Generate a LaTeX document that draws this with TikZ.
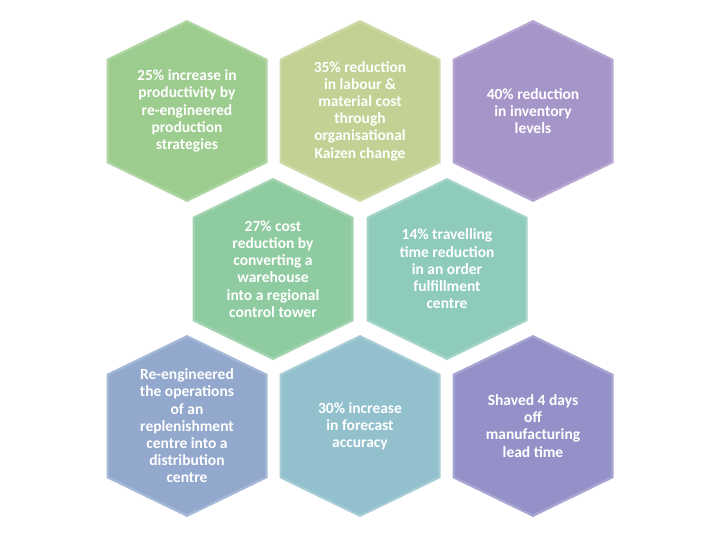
\documentclass[tikz,border=0pt]{standalone}
\usepackage{fontspec}
\usepackage{tikz}

\newfontfamily\hexfont{Carlito}

\definecolor{prodgreen}{RGB}{157,204,143}
\definecolor{labourolive}{RGB}{194,210,148}
\definecolor{stocklilac}{RGB}{166,149,201}
\definecolor{housegreen}{RGB}{143,203,160}
\definecolor{travelteal}{RGB}{143,203,188}
\definecolor{replenblue}{RGB}{146,168,205}
\definecolor{forecastblue}{RGB}{146,192,205}
\definecolor{leadpurple}{RGB}{148,145,200}

% #1 name, #2 centre, #3 colour, #4 text
\newcommand{\hexcell}[4]{%
  \fill[#3!82!white, shift={(#2)}] (-80.5,-52) -- (0,-91) -- (80.5,-52) -- (80.5,52) -- (0,91) -- (-80.5,52) -- cycle;
  \fill[#3, shift={(#2)}, scale=0.97] (-80.5,-52) -- (0,-91) -- (80.5,-52) -- (80.5,52) -- (0,91) -- (-80.5,52) -- cycle;
  \node[hextext] (#1) at (#2) {#4};
}

\begin{document}
\begin{tikzpicture}[x=1pt, y=-1pt,
    hextext/.style={text=white, align=center, inner sep=0pt, font=\hexfont\bfseries\fontsize{15.5}{17.2}\selectfont}]
    \useasboundingbox (0,0) rectangle (720,539);

    % First row
    \hexcell{hexProd}{187,111}{prodgreen}{25\% increase in\\productivity by\\re-engineered\\production\\strategies}
    \hexcell{hexLabour}{360,111}{labourolive}{35\% reduction\\in labour \&\\material cost\\through\\organisational\\Kaizen change}
    \hexcell{hexStock}{533,111}{stocklilac}{40\% reduction\\in inventory\\levels}

    % Second row
    \hexcell{hexHouse}{273,269}{housegreen}{27\% cost\\reduction by\\converting a\\warehouse\\into a regional\\control tower}
    \hexcell{hexTravel}{447,269}{travelteal}{14\% travelling\\time reduction\\in an order\\fulfillment\\centre}

    % Third row
    \hexcell{hexReplen}{187,426}{replenblue}{Re-engineered\\the operations\\of an\\replenishment\\centre into a\\distribution\\centre}
    \hexcell{hexForecast}{360,426}{forecastblue}{30\% increase\\in forecast\\accuracy}
    \hexcell{hexLead}{533,426}{leadpurple}{Shaved 4 days\\off\\manufacturing\\lead time}
\end{tikzpicture}
\end{document}
